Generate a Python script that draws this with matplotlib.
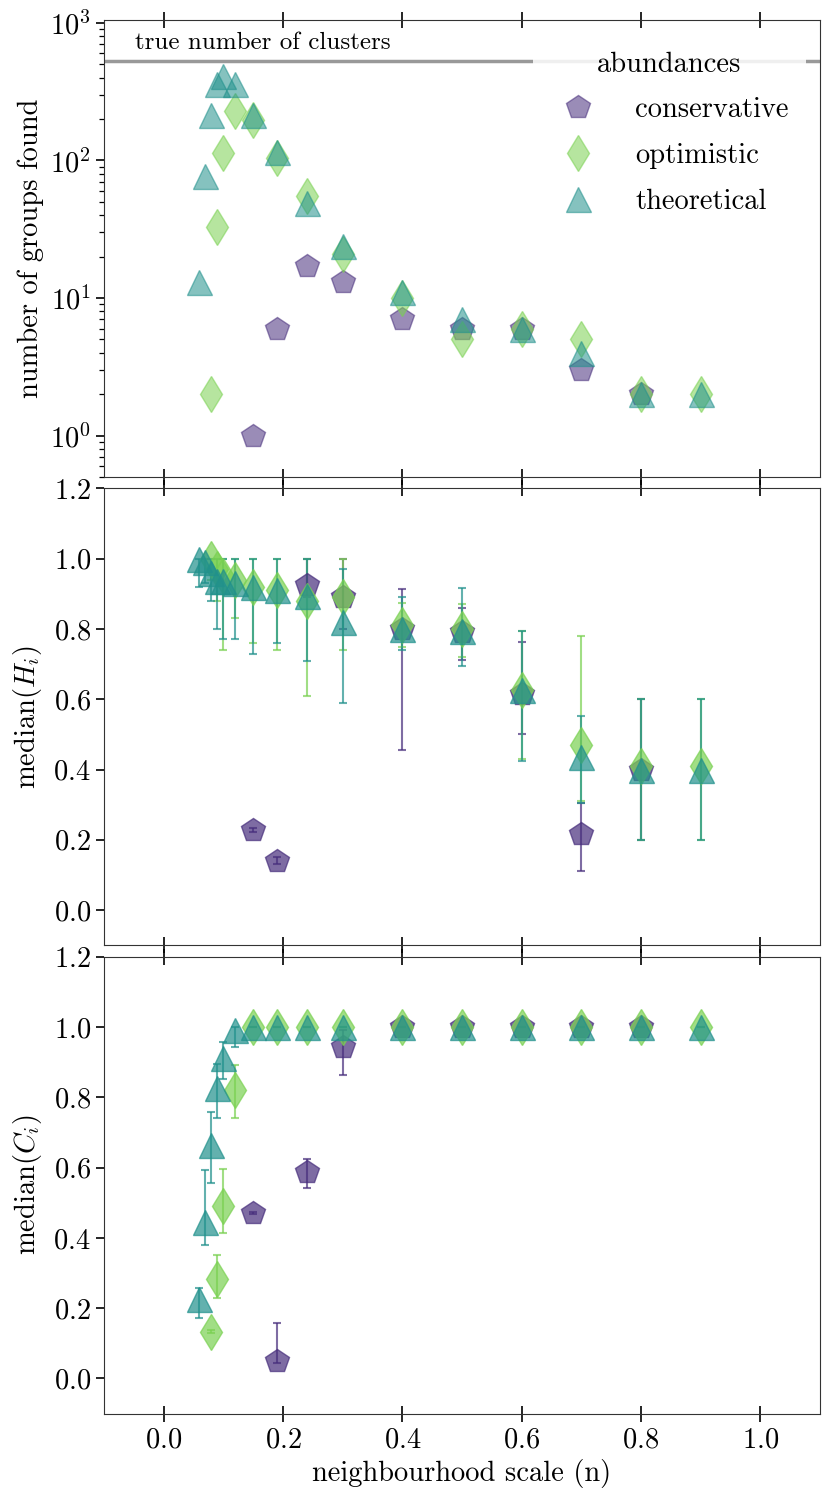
import numpy as np
import matplotlib
matplotlib.use("Agg")
import matplotlib.pyplot as plt

plt.rcParams['font.family'] = 'serif'
plt.rcParams['font.serif'] = ['cmr10']
plt.rcParams['mathtext.fontset'] = 'cm'
plt.rcParams['axes.formatter.use_mathtext'] = True
plt.rcParams['font.size'] = 20.5

# neighbourhood scales for each abundance model
x_cons = [0.15, 0.19, 0.24, 0.30, 0.40, 0.50, 0.60, 0.70, 0.80]
x_opt = [0.08, 0.09, 0.10, 0.12, 0.15, 0.19, 0.24, 0.30, 0.40, 0.50, 0.60, 0.70, 0.80, 0.90]
x_theo = [0.06, 0.07, 0.08, 0.09, 0.10, 0.12, 0.15, 0.19, 0.24, 0.30, 0.40, 0.50, 0.60, 0.70, 0.80, 0.90]

true_n = 530

# number of groups found
n_cons = [1, 6, 17, 13, 7, 6, 6, 3, 2]
n_opt = [2, 33, 114, 228, 197, 105, 55, 21, 10, 5, 6, 5, 2, 2]
n_theo = [13, 77, 213, 358, 412, 360, 213, 116, 49, 24, 11, 7, 6, 4, 2, 2]

# median homogeneity with lower / upper bounds
h_cons = [0.228, 0.14, 0.925, 0.89, 0.80, 0.79, 0.615, 0.217, 0.40]
h_cons_lo = [0.223, 0.13, 0.89, 0.80, 0.455, 0.711, 0.50, 0.111, 0.20]
h_cons_hi = [0.233, 0.15, 1.0, 1.0, 0.915, 0.86, 0.763, 0.306, 0.60]

h_opt = [1.00, 0.97, 0.95, 0.94, 0.92, 0.91, 0.88, 0.89, 0.81, 0.80, 0.625, 0.47, 0.41, 0.41]
h_opt_lo = [0.94, 0.88, 0.74, 0.83, 0.76, 0.74, 0.61, 0.74, 0.75, 0.72, 0.43, 0.31, 0.20, 0.20]
h_opt_hi = [1.0, 1.0, 1.0, 1.0, 1.0, 1.0, 1.0, 1.0, 0.875, 0.87, 0.794, 0.779, 0.60, 0.60]

h_theo = [1.00, 0.99, 0.96, 0.935, 0.935, 0.93, 0.92, 0.91, 0.895, 0.82, 0.80, 0.795, 0.625, 0.435, 0.40, 0.40]
h_theo_lo = [0.92, 0.93, 0.88, 0.80, 0.77, 0.77, 0.73, 0.76, 0.71, 0.59, 0.74, 0.695, 0.424, 0.306, 0.20, 0.20]
h_theo_hi = [1.0, 1.0, 1.0, 1.0, 1.0, 1.0, 1.0, 1.0, 1.0, 0.97, 0.89, 0.917, 0.794, 0.552, 0.60, 0.60]

# median completeness with lower / upper bounds
c_cons = [0.47, 0.051, 0.586, 0.944, 1.0, 1.0, 1.0, 1.0, 1.0]
c_cons_lo = [0.467, 0.045, 0.543, 0.862, 1.0, 1.0, 1.0, 1.0, 1.0]
c_cons_hi = [0.473, 0.159, 0.623, 0.99, 1.0, 1.0, 1.0, 1.0, 1.0]

c_opt = [0.133, 0.284, 0.49, 0.822, 1.0, 1.0, 1.0, 1.0, 1.0, 1.0, 1.0, 1.0, 1.0, 1.0]
c_opt_lo = [0.130, 0.229, 0.415, 0.741, 1.0, 1.0, 1.0, 1.0, 1.0, 1.0, 1.0, 1.0, 1.0, 1.0]
c_opt_hi = [0.137, 0.35, 0.595, 0.893, 1.0, 1.0, 1.0, 1.0, 1.0, 1.0, 1.0, 1.0, 1.0, 1.0]

c_theo = [0.226, 0.446, 0.665, 0.825, 0.911, 0.99, 1.0, 1.0, 1.0, 1.0, 1.0, 1.0, 1.0, 1.0, 1.0, 1.0]
c_theo_lo = [0.172, 0.381, 0.556, 0.741, 0.851, 0.943, 1.0, 1.0, 1.0, 1.0, 1.0, 1.0, 1.0, 1.0, 1.0, 1.0]
c_theo_hi = [0.258, 0.594, 0.757, 0.896, 0.957, 1.0, 1.0, 1.0, 1.0, 1.0, 1.0, 1.0, 1.0, 1.0, 1.0, 1.0]

names = ['conservative', 'optimistic', 'theoretical']
markers = ['p', 'd', '^']
colors = [plt.cm.viridis(0.13), plt.cm.viridis(0.8), plt.cm.viridis(0.5)]

fig, axes = plt.subplots(3, 1, figsize=(8.3, 14.96), dpi=100, sharex=True)
fig.subplots_adjust(left=0.1253, right=0.988, top=0.9866, bottom=0.0551, hspace=0.025)
ax1, ax2, ax3 = axes

xs = [x_cons, x_opt, x_theo]

# top: number of groups
ax1.axhline(true_n, color='gray', lw=2.5, alpha=0.8, zorder=1)
ax1.text(-0.048, true_n * 1.13, 'true number of clusters', fontsize=18, va='bottom')
for x, n, m, c, lab in zip(xs, [n_cons, n_opt, n_theo], markers, colors, names):
    ax1.plot(x, n, m, ls='none', ms=18, color=c, alpha=0.55, label=lab, zorder=2)
ax1.set_yscale('log')
ax1.set_ylim(0.5, 1050)
ax1.set_ylabel('number of groups found')
leg = ax1.legend(title='abundances', loc='upper right', handletextpad=1.0,
                 labelspacing=0.68, borderpad=0.6,
                 framealpha=0.85, edgecolor='none', fancybox=False)
leg.get_title().set_fontsize(20.5)

# middle: homogeneity, bottom: completeness
panels = [
    (ax2, [h_cons, h_opt, h_theo], [h_cons_lo, h_opt_lo, h_theo_lo], [h_cons_hi, h_opt_hi, h_theo_hi], r'median($H_i$)'),
    (ax3, [c_cons, c_opt, c_theo], [c_cons_lo, c_opt_lo, c_theo_lo], [c_cons_hi, c_opt_hi, c_theo_hi], r'median($C_i$)'),
]
for ax, ys, los, his, ylab in panels:
    for x, y, lo, hi, m, c in zip(xs, ys, los, his, markers, colors):
        y = np.array(y)
        err = [np.clip(y - np.array(lo), 0, None), np.clip(np.array(hi) - y, 0, None)]
        ax.errorbar(x, y, yerr=err, fmt=m, ms=18, color=c, alpha=0.7,
                    capsize=3, elinewidth=1.5, capthick=1.5)
    ax.set_ylim(-0.1, 1.2)
    ax.set_yticks([0.0, 0.2, 0.4, 0.6, 0.8, 1.0, 1.2])
    ax.set_ylabel(ylab)

ax3.set_xlim(-0.1, 1.1)
ax3.set_xticks([0.0, 0.2, 0.4, 0.6, 0.8, 1.0])
ax3.set_xlabel('neighbourhood scale (n)')

for ax in axes:
    ax.tick_params(axis='x', which='major', direction='inout', length=12, width=1.2, top=True)
    ax.tick_params(axis='y', which='major', direction='out', length=6, width=1.2)
    ax.tick_params(axis='y', which='minor', direction='out', length=3.5, width=0.9)
    for s in ax.spines.values():
        s.set_color('#333333')

fig.align_ylabels(axes)
fig.savefig('out.png', dpi=100)
